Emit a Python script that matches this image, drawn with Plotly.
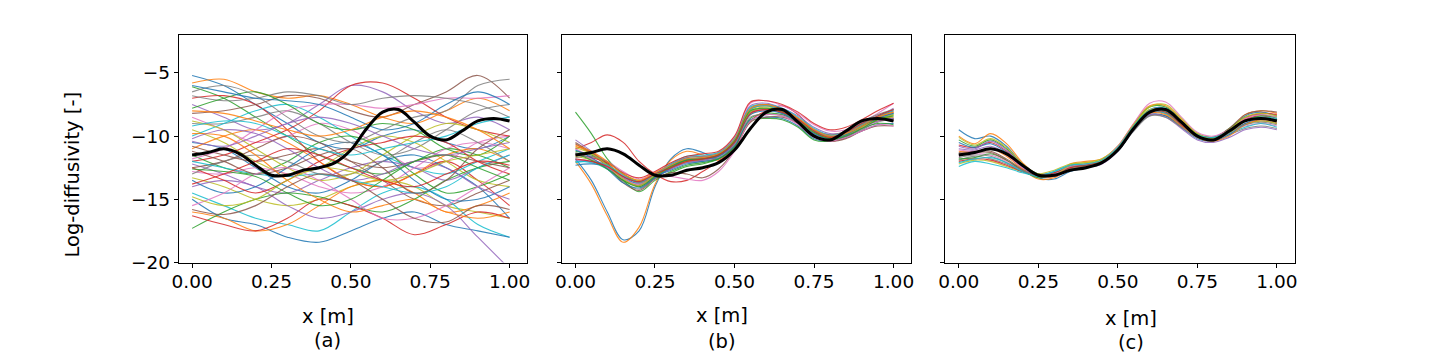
import plotly.graph_objects as go

# ---------------- data ----------------
X_A = [0.0, 0.1, 0.2, 0.3, 0.4, 0.5, 0.6, 0.7, 0.8, 0.9, 1.0]
X_B = [0.0, 0.05, 0.1, 0.15, 0.2, 0.25, 0.3, 0.35, 0.4, 0.45, 0.5,
       0.55, 0.6, 0.65, 0.7, 0.75, 0.8, 0.85, 0.9, 0.95, 1.0]

truth = [-11.5, -11.3, -11.0, -11.4, -12.3, -13.1, -13.1, -12.7, -12.5, -12.1, -11.1,
         -9.4, -8.1, -7.9, -8.9, -10.0, -10.3, -9.6, -8.8, -8.6, -8.8]

prior_samples = [
    [-5.2, -6.0, -7.5, -9.0, -10.5, -11.0, -10.0, -9.5, -10.5, -11.0, -10.0],
    [-5.8, -5.5, -6.5, -7.0, -6.8, -7.5, -8.5, -9.0, -8.0, -7.0, -8.0],
    [-6.1, -7.0, -8.5, -10.0, -11.5, -12.5, -13.0, -12.0, -11.0, -11.5, -12.5],
    [-7.0, -6.8, -7.5, -9.5, -12.0, -13.5, -14.0, -13.0, -12.0, -13.5, -15.5],
    [-7.5, -8.5, -9.5, -9.0, -7.5, -6.0, -6.5, -8.0, -9.0, -8.5, -9.5],
    [-8.2, -8.0, -7.5, -6.8, -7.0, -8.0, -8.5, -7.5, -6.5, -5.2, -7.0],
    [-8.5, -9.5, -10.5, -10.0, -9.0, -9.5, -11.0, -12.5, -12.0, -10.5, -10.0],
    [-9.0, -9.0, -8.5, -8.0, -9.0, -10.5, -11.5, -11.0, -9.5, -8.0, -7.5],
    [-9.5, -10.5, -12.0, -13.0, -12.5, -11.0, -10.0, -10.5, -12.0, -13.5, -14.0],
    [-10.0, -9.0, -8.0, -7.5, -8.5, -10.0, -11.5, -12.5, -13.0, -12.0, -11.0],
    [-10.5, -11.0, -12.5, -14.0, -14.5, -13.5, -12.0, -11.5, -12.5, -14.0, -16.5],
    [-11.0, -10.0, -9.5, -10.5, -12.0, -13.5, -14.0, -13.0, -11.5, -11.0, -12.0],
    [-11.5, -12.5, -13.0, -12.0, -10.5, -10.0, -11.0, -13.0, -14.5, -14.0, -13.0],
    [-12.0, -11.5, -10.5, -9.5, -8.0, -6.0, -5.8, -7.0, -8.5, -9.5, -10.0],
    [-12.2, -13.0, -14.0, -14.5, -13.5, -12.5, -12.0, -12.5, -13.5, -12.5, -11.5],
    [-12.5, -12.0, -11.0, -10.0, -10.5, -12.0, -13.5, -15.0, -15.5, -14.5, -13.5],
    [-12.8, -13.0, -12.5, -13.0, -14.0, -14.5, -14.0, -12.5, -11.0, -10.5, -11.0],
    [-13.0, -12.0, -11.5, -12.0, -13.0, -13.0, -12.0, -10.5, -9.5, -10.5, -12.0],
    [-13.3, -14.0, -15.0, -15.5, -15.0, -14.0, -13.5, -14.0, -15.5, -16.0, -16.5],
    [-14.5, -15.5, -16.5, -17.0, -17.5, -16.0, -14.5, -14.0, -15.0, -17.0, -18.0],
    [-15.0, -16.5, -17.0, -18.0, -18.4, -17.5, -16.5, -16.0, -17.0, -17.5, -18.0],
    [-16.0, -16.5, -17.5, -17.0, -15.5, -14.0, -13.5, -14.5, -16.0, -15.5, -14.5],
    [-17.3, -16.0, -15.0, -14.5, -14.8, -15.5, -16.0, -15.0, -13.5, -12.5, -12.0],
    [-16.3, -17.0, -17.5, -16.5, -15.0, -15.5, -16.5, -17.8, -17.0, -16.0, -16.5],
    [-14.0, -13.5, -14.0, -15.5, -16.5, -16.0, -15.0, -14.5, -15.5, -18.0, -20.5],
    [-10.8, -11.5, -12.0, -11.5, -11.0, -12.0, -12.5, -12.0, -11.5, -12.0, -12.5],
    [-11.8, -11.0, -9.5, -8.0, -7.5, -7.5, -7.8, -7.5, -7.0, -7.0, -6.8],
    [-6.8, -7.2, -7.0, -6.5, -6.8, -7.5, -7.0, -6.8, -7.0, -7.5, -8.5],
    [-8.8, -9.5, -11.0, -12.5, -13.5, -13.0, -11.5, -10.0, -9.0, -9.5, -10.5],
    [-12.0, -12.5, -13.0, -13.2, -13.0, -13.5, -14.0, -14.5, -14.0, -12.5, -11.5],
    [-13.5, -14.5, -14.0, -12.5, -11.0, -10.5, -11.5, -13.5, -15.0, -15.0, -14.0],
    [-9.8, -10.0, -11.5, -13.5, -15.0, -16.0, -15.5, -15.0, -16.0, -16.5, -16.0],
    [-7.8, -7.0, -6.5, -7.5, -9.0, -9.5, -9.0, -9.5, -11.0, -11.5, -10.0],
    [-12.5, -13.5, -14.5, -13.5, -12.0, -11.0, -10.5, -10.0, -10.5, -12.0, -13.0],
    [-10.2, -9.5, -9.8, -11.0, -12.5, -13.5, -13.0, -12.0, -12.5, -14.0, -15.0],
    [-11.2, -12.0, -13.0, -12.5, -11.5, -11.0, -12.5, -14.5, -13.5, -11.0, -9.5],
    [-15.5, -14.5, -13.0, -12.5, -13.5, -15.0, -16.5, -16.5, -15.5, -14.0, -12.5],
    [-6.5, -6.0, -6.8, -8.5, -10.0, -10.5, -9.5, -8.5, -8.0, -6.0, -5.5],
    [-14.8, -15.5, -15.0, -13.5, -12.5, -12.8, -13.5, -13.0, -12.0, -11.5, -11.0],
    [-9.2, -8.8, -9.0, -10.0, -11.0, -11.5, -11.0, -10.5, -10.0, -9.0, -8.5],
    [-6.0, -6.5, -7.0, -7.2, -7.5, -8.5, -9.5, -9.0, -7.5, -6.5, -7.5],
    [-8.0, -8.2, -8.8, -9.5, -10.0, -9.5, -8.5, -8.0, -8.5, -9.5, -11.0],
    [-12.6, -12.8, -13.2, -14.5, -15.5, -15.0, -13.5, -12.0, -11.5, -12.5, -13.5],
    [-13.8, -13.0, -12.0, -11.0, -11.5, -12.5, -13.5, -14.0, -13.0, -12.0, -12.3],
    [-10.4, -10.8, -10.0, -9.0, -8.5, -9.0, -10.0, -11.0, -11.5, -11.0, -10.5],
    [-15.8, -16.2, -15.5, -14.0, -13.0, -13.5, -15.0, -16.5, -16.8, -15.5, -15.8],
]

samples_b = [
    [-11.8, -13.5, -16.0, -18.2, -17.5, -14.0, -11.8, -11.0, -11.3, -11.8, -10.5, -8.1, -7.8, -8.1, -8.7, -9.7, -10.1, -9.8, -9.0, -8.5, -8.2],
    [-12.0, -13.8, -16.3, -18.4, -17.2, -13.8, -11.9, -11.2, -11.5, -11.9, -10.6, -8.3, -7.9, -8.2, -8.9, -9.8, -10.1, -9.7, -9.1, -8.6, -8.5],
    [-8.1, -9.8, -11.8, -13.0, -13.6, -13.3, -12.9, -12.4, -12.2, -11.8, -10.8, -8.6, -8.2, -8.3, -8.9, -9.9, -10.3, -9.9, -9.2, -8.7, -8.6],
    [-11.0, -10.5, -9.9, -10.5, -12.0, -13.0, -13.6, -13.5, -12.8, -12.0, -10.9, -8.8, -8.0, -7.6, -8.3, -9.6, -10.4, -10.1, -9.3, -8.8, -8.7],
    [-10.3, -11.2, -12.2, -13.2, -13.6, -13.0, -12.3, -11.8, -11.8, -11.5, -10.3, -7.6, -7.4, -7.8, -8.4, -9.3, -9.8, -9.7, -9.2, -8.5, -7.8],
    [-10.6, -11.4, -12.4, -13.5, -13.9, -13.1, -12.5, -12.0, -11.9, -11.6, -10.5, -7.9, -7.6, -8.0, -8.7, -9.6, -10.0, -9.8, -9.2, -8.5, -8.0],
    [-11.0, -11.6, -12.0, -12.8, -13.4, -12.9, -12.2, -11.7, -11.6, -11.3, -10.1, -7.4, -7.2, -7.6, -8.2, -9.1, -9.6, -9.5, -8.9, -8.2, -7.4],
    [-11.3, -11.8, -12.5, -13.6, -14.2, -13.3, -12.6, -12.1, -12.0, -11.7, -10.7, -8.5, -8.3, -8.4, -9.0, -9.9, -10.2, -10.0, -9.5, -8.9, -8.6],
    [-11.6, -11.9, -12.3, -13.0, -13.5, -13.0, -12.4, -11.9, -11.7, -11.4, -10.4, -8.0, -7.7, -8.0, -8.7, -9.6, -10.1, -9.9, -9.2, -8.7, -8.3],
    [-12.0, -12.1, -12.6, -13.4, -13.7, -13.0, -12.2, -11.6, -11.5, -11.3, -10.2, -7.7, -7.5, -7.8, -8.5, -9.4, -9.9, -9.7, -9.0, -8.4, -7.9],
    [-12.3, -12.2, -12.4, -13.2, -13.8, -13.2, -12.7, -12.2, -12.0, -11.8, -10.8, -8.7, -8.5, -8.6, -9.2, -10.2, -10.4, -10.1, -9.6, -9.1, -9.0],
    [-10.8, -11.3, -12.1, -13.3, -14.0, -13.2, -12.4, -11.9, -11.7, -11.5, -10.4, -7.9, -7.6, -7.9, -8.6, -9.5, -10.1, -9.8, -9.1, -8.5, -8.1],
    [-11.2, -11.5, -12.2, -13.5, -14.4, -13.5, -12.8, -12.3, -12.1, -11.8, -10.9, -8.8, -8.6, -8.7, -9.3, -10.3, -10.4, -10.0, -9.4, -9.0, -9.1],
    [-11.5, -11.7, -12.1, -12.9, -13.3, -12.8, -12.1, -11.6, -11.4, -11.2, -10.0, -7.3, -7.2, -7.5, -8.1, -9.0, -9.5, -9.3, -8.7, -8.0, -7.4],
    [-11.9, -12.0, -12.5, -13.3, -13.9, -13.2, -12.6, -12.1, -11.9, -11.6, -10.6, -8.2, -7.9, -8.2, -8.9, -9.8, -10.2, -10.0, -9.4, -8.8, -8.6],
    [-10.5, -11.3, -12.3, -13.7, -14.3, -13.4, -12.9, -13.0, -13.3, -12.6, -11.1, -8.9, -8.5, -8.5, -9.0, -10.0, -10.4, -10.2, -9.6, -9.2, -9.2],
    [-11.4, -11.8, -12.4, -13.4, -13.8, -13.2, -13.2, -13.4, -13.5, -12.8, -11.2, -8.8, -8.3, -8.4, -9.1, -10.1, -10.4, -10.1, -9.6, -9.1, -9.2],
    [-11.7, -11.6, -12.0, -13.0, -13.7, -13.1, -12.3, -11.7, -11.6, -11.4, -10.3, -7.8, -7.5, -7.9, -8.6, -9.5, -9.9, -9.6, -8.9, -8.3, -7.9],
    [-10.9, -11.4, -12.3, -13.4, -13.9, -13.1, -12.5, -12.0, -11.8, -11.5, -10.5, -8.1, -7.8, -8.1, -8.8, -9.7, -10.1, -9.9, -9.3, -8.7, -8.3],
    [-12.1, -12.0, -12.3, -13.1, -13.6, -13.0, -12.3, -11.8, -11.7, -11.4, -10.3, -7.9, -7.6, -8.0, -8.7, -9.6, -10.0, -9.8, -9.1, -8.5, -8.0],
    [-11.1, -11.7, -12.6, -13.7, -14.1, -13.3, -12.5, -11.9, -11.8, -11.6, -10.5, -8.3, -8.0, -8.2, -8.9, -9.8, -10.2, -9.9, -9.2, -8.6, -8.2],
    [-10.7, -11.2, -12.0, -13.0, -13.5, -12.9, -12.3, -11.8, -11.7, -11.4, -10.3, -7.8, -7.5, -7.9, -8.6, -9.5, -10.0, -9.8, -9.2, -8.5, -8.1],
    [-11.4, -11.9, -12.6, -13.5, -14.0, -13.2, -12.4, -11.9, -11.8, -11.5, -10.4, -8.0, -7.8, -8.1, -8.8, -9.7, -10.2, -10.0, -9.4, -8.7, -8.4],
    [-11.8, -12.0, -12.4, -13.2, -13.6, -13.0, -12.5, -12.0, -11.8, -11.5, -10.5, -8.2, -7.9, -8.1, -8.7, -9.6, -10.1, -9.7, -9.0, -8.4, -7.9],
]

samples_c = [
    [-9.5, -10.2, -10.0, -10.8, -12.2, -13.0, -13.0, -12.4, -12.3, -12.0, -11.0, -9.2, -7.9, -7.8, -8.8, -9.9, -10.2, -9.5, -8.4, -8.1, -8.4],
    [-10.0, -10.6, -9.8, -10.6, -12.1, -13.1, -13.2, -12.2, -12.0, -11.8, -10.8, -9.0, -7.6, -7.6, -8.7, -9.9, -10.3, -9.6, -8.3, -8.0, -8.2],
    [-10.3, -10.8, -10.3, -11.0, -12.3, -13.0, -13.1, -12.5, -12.3, -11.9, -10.9, -9.1, -7.7, -7.7, -8.8, -9.9, -10.2, -9.4, -8.5, -8.3, -8.6],
    [-10.7, -10.9, -10.5, -11.2, -12.4, -13.1, -13.0, -12.6, -12.4, -12.0, -11.0, -9.3, -8.0, -7.9, -8.9, -10.0, -10.3, -9.6, -8.7, -8.4, -8.7],
    [-11.0, -11.1, -10.8, -11.4, -12.5, -13.2, -13.1, -12.7, -12.5, -12.1, -11.1, -9.4, -8.1, -8.0, -9.0, -10.0, -10.3, -9.6, -8.8, -8.6, -8.8],
    [-11.3, -11.2, -11.2, -11.8, -12.6, -13.0, -12.9, -12.5, -12.4, -12.0, -11.0, -9.4, -8.2, -8.2, -9.1, -10.0, -10.2, -9.7, -9.0, -8.8, -9.0],
    [-11.6, -11.4, -11.5, -12.0, -12.7, -13.1, -12.8, -12.3, -12.2, -11.9, -10.9, -9.2, -8.0, -8.1, -9.0, -9.9, -10.1, -9.6, -9.2, -9.0, -9.2],
    [-11.9, -11.6, -11.8, -12.2, -12.8, -13.2, -12.9, -12.4, -12.3, -12.0, -11.1, -9.6, -8.4, -8.4, -9.2, -10.0, -10.2, -9.9, -9.4, -9.2, -9.4],
    [-12.2, -11.9, -12.0, -12.4, -12.8, -13.0, -12.7, -12.2, -12.1, -11.8, -10.8, -9.1, -7.9, -8.0, -8.9, -9.8, -10.1, -9.7, -9.1, -8.8, -9.0],
    [-12.4, -12.0, -12.2, -12.5, -12.9, -13.1, -12.8, -12.3, -12.2, -11.9, -10.9, -9.3, -8.1, -8.2, -9.1, -10.0, -10.2, -9.8, -9.3, -9.0, -9.3],
    [-10.5, -10.9, -10.6, -11.3, -12.4, -13.3, -13.4, -12.8, -12.5, -12.1, -11.2, -9.5, -8.3, -8.4, -9.3, -10.2, -10.4, -9.9, -9.0, -8.6, -8.7],
    [-11.2, -11.3, -11.0, -11.6, -12.6, -13.4, -13.3, -12.6, -12.4, -12.1, -11.1, -9.4, -8.2, -8.3, -9.2, -10.1, -10.4, -10.0, -9.1, -8.7, -8.9],
    [-11.8, -11.7, -11.4, -11.9, -12.7, -13.3, -13.0, -12.4, -12.2, -11.9, -10.9, -9.2, -8.0, -8.0, -9.0, -10.0, -10.2, -9.7, -8.8, -8.4, -8.5],
    [-12.0, -11.8, -11.9, -12.3, -12.8, -13.1, -12.9, -12.5, -12.3, -12.0, -11.0, -9.3, -8.1, -8.1, -9.1, -10.0, -10.3, -9.6, -8.6, -8.2, -8.3],
    [-10.8, -11.0, -10.4, -11.1, -12.3, -13.1, -13.2, -12.7, -12.5, -12.2, -11.2, -9.5, -8.3, -8.5, -9.4, -10.3, -10.5, -10.1, -9.5, -9.3, -9.5],
    [-11.4, -11.3, -11.3, -11.9, -12.7, -13.2, -13.0, -12.4, -12.3, -12.0, -11.0, -9.3, -8.1, -8.1, -9.0, -9.9, -10.1, -9.4, -8.3, -8.0, -8.1],
    [-11.1, -11.2, -11.0, -11.5, -12.5, -13.1, -13.0, -12.4, -12.2, -11.9, -10.8, -9.0, -7.4, -7.3, -8.5, -9.7, -10.0, -9.5, -8.6, -8.3, -8.5],
    [-11.7, -11.5, -11.6, -12.1, -12.7, -13.2, -13.1, -12.6, -12.4, -12.1, -11.1, -9.5, -8.4, -8.5, -9.3, -10.1, -10.3, -9.8, -9.1, -8.9, -9.1],
    [-10.1, -10.7, -10.2, -10.9, -12.2, -13.0, -13.1, -12.3, -12.1, -11.9, -10.9, -9.1, -7.7, -7.5, -8.6, -9.8, -10.2, -9.5, -8.5, -8.2, -8.4],
    [-12.1, -11.8, -11.7, -12.1, -12.8, -13.2, -12.8, -12.3, -12.2, -11.9, -10.9, -9.2, -8.0, -8.0, -8.9, -9.9, -10.1, -9.6, -8.8, -8.5, -8.6],
]

x_tick_vals = [0.0, 0.25, 0.5, 0.75, 1.0]
x_tick_text = ["0.00", "0.25", "0.50", "0.75", "1.00"]
y_tick_vals = [-20, -15, -10, -5]
y_tick_text = ["\u221220", "\u221215", "\u221210", "\u22125"]
panel_labels = ["(a)", "(b)", "(c)"]

# ---------------- style ----------------
TAB10 = ["#1f77b4", "#ff7f0e", "#2ca02c", "#d62728", "#9467bd",
         "#8c564b", "#e377c2", "#7f7f7f", "#bcbd22", "#17becf"]
FONT = "DejaVu Sans"
TICK_SIZE = 18.5
LABEL_SIZE = 19.5
W, H = 1440, 360

boxes = [(173, 524), (559, 910.7), (945, 1296.7)]
top_px, bot_px = 36, 270

fig = go.Figure()

panels = [(X_A, prior_samples), (X_B, samples_b), (X_B, samples_c)]
for p, (xs, samples) in enumerate(panels):
    xa = "x" if p == 0 else f"x{p+1}"
    ya = "y" if p == 0 else f"y{p+1}"
    for i, s in enumerate(samples):
        fig.add_trace(go.Scatter(
            x=xs, y=s, mode="lines", xaxis=xa, yaxis=ya,
            line=dict(color=TAB10[i % 10], width=1.1, shape="spline", smoothing=1.0),
            opacity=0.85, showlegend=False, hoverinfo="skip"))
    fig.add_trace(go.Scatter(
        x=X_B, y=truth, mode="lines", xaxis=xa, yaxis=ya,
        line=dict(color="black", width=3, shape="spline", smoothing=1.0),
        showlegend=False, hoverinfo="skip"))

layout = dict(
    width=W, height=H, autosize=False,
    margin=dict(l=0, r=0, t=0, b=0, pad=0),
    paper_bgcolor="white", plot_bgcolor="white",
    font=dict(family=FONT, size=TICK_SIZE, color="black"),
)
for p, (l, r) in enumerate(boxes):
    xk = "xaxis" if p == 0 else f"xaxis{p+1}"
    yk = "yaxis" if p == 0 else f"yaxis{p+1}"
    layout[xk] = dict(
        domain=[l / W, r / W], anchor="y" if p == 0 else f"y{p+1}",
        range=[-0.042, 1.056], tickvals=x_tick_vals, ticktext=x_tick_text,
        showline=True, linecolor="black", linewidth=1, mirror=True,
        ticks="outside", ticklen=4, tickcolor="black", showgrid=False, zeroline=False,
        ticklabelstandoff=-2,
        tickfont=dict(family=FONT, size=TICK_SIZE, color="black"))
    layout[yk] = dict(
        domain=[1 - bot_px / H, 1 - top_px / H], anchor="x" if p == 0 else f"x{p+1}",
        range=[-20, -2], tickvals=y_tick_vals, ticktext=y_tick_text,
        showticklabels=(p == 0),
        showline=True, linecolor="black", linewidth=1, mirror=True,
        ticks="outside", ticklen=4, tickcolor="black", showgrid=False, zeroline=False,
        tickfont=dict(family=FONT, size=TICK_SIZE, color="black"))
fig.update_layout(**layout)

annotations = []
label_x = [323, 720, 1132]
xlab_y = [326, 325, 328]
plab_y = [350, 351, 352]
for p in range(3):
    annotations.append(dict(x=label_x[p] / W, y=1 - xlab_y[p] / H, xref="paper", yref="paper",
                            text="x [m]", showarrow=False, xanchor="center", yanchor="middle",
                            font=dict(family=FONT, size=LABEL_SIZE, color="black")))
    annotations.append(dict(x=label_x[p] / W, y=1 - plab_y[p] / H, xref="paper", yref="paper",
                            text=panel_labels[p], showarrow=False, xanchor="center", yanchor="middle",
                            font=dict(family=FONT, size=LABEL_SIZE, color="black")))
annotations.append(dict(x=65 / W, y=1 - 180 / H, xref="paper", yref="paper",
                        text="Log-diffusivity [-]", textangle=-90, showarrow=False,
                        xanchor="center", yanchor="middle",
                        font=dict(family=FONT, size=LABEL_SIZE, color="black")))
fig.update_layout(annotations=annotations)

fig.write_html("out.html")
